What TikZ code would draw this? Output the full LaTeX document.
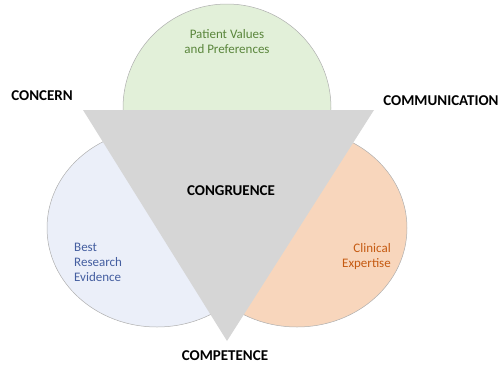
\documentclass[tikz,border=0pt]{standalone}
\usepackage{fontspec}
\setmainfont{Carlito}
\usepackage{xcolor}
\usetikzlibrary{positioning}

\definecolor{valuesfill}{RGB}{226,240,217}
\definecolor{researchfill}{RGB}{235,239,249}
\definecolor{expertfill}{RGB}{248,214,188}
\definecolor{congfill}{RGB}{214,214,214}
\definecolor{rimgray}{RGB}{175,175,175}
\definecolor{valuestext}{RGB}{90,134,60}
\definecolor{researchtext}{RGB}{68,94,160}
\definecolor{experttext}{RGB}{197,90,17}

\begin{document}
\begin{tikzpicture}[y=-1pt,x=1pt]
	\tikzset{
		bubble/.style={draw=rimgray, line width=0.5pt},
		corner/.style={font=\bfseries\fontsize{15}{17}\selectfont, text=black, inner sep=0pt},
		bubbletext/.style={font=\fontsize{13}{15}\selectfont, inner sep=0pt}
	}
	\useasboundingbox (0,0) rectangle (501,365);

	% the three evidence bubbles
	\draw[bubble, fill=valuesfill] (227,108) circle (104);
	\draw[bubble, fill=researchfill] (157,228) ellipse [x radius=110, y radius=99];
	\draw[bubble, fill=expertfill] (297,228) ellipse [x radius=110, y radius=99];

	% the triangle on top
	\fill[congfill] (83,110) -- (374,110) -- (227,341) -- cycle;

	\node[bubbletext, text=valuestext, align=center] (values) at (227,42) {Patient Values\\and Preferences};
	\node[bubbletext, text=researchtext, align=left, anchor=west] (research) at (74,262) {Best\\Research\\Evidence};
	\node[bubbletext, text=experttext, align=right, anchor=east] (expertise) at (391,257) {Clinical\\Expertise};

	\node[corner] (concern) at (42,96) {CONCERN};
	\node[corner] (communication) at (441,101) {COMMUNICATION};
	\node[corner] (congruence) at (231,191) {CONGRUENCE};
	\node[corner] (competence) at (225,356) {COMPETENCE};
\end{tikzpicture}
\end{document}
